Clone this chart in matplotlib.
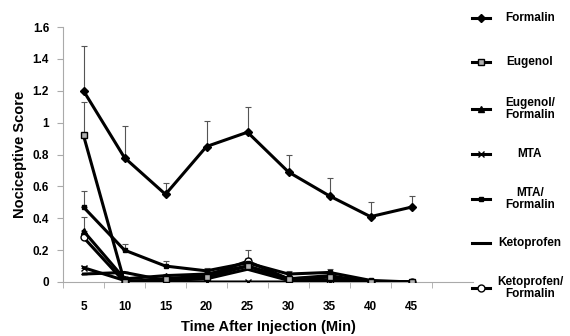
import numpy as np
import matplotlib
matplotlib.use('Agg')
import matplotlib.pyplot as plt
from matplotlib.lines import Line2D

plt.rcParams['font.family'] = ['Liberation Sans', 'DejaVu Sans']

times = [5, 10, 15, 20, 25, 30, 35, 40, 45]

formalin = [1.20, 0.78, 0.55, 0.85, 0.94, 0.69, 0.54, 0.41, 0.47]
formalin_err = [0.28, 0.20, 0.07, 0.16, 0.16, 0.11, 0.11, 0.09, 0.07]
eugenol = [0.92, 0.00, 0.02, 0.03, 0.10, 0.02, 0.03, 0.00, 0.00]
eugenol_err = [0.21, 0.0, 0.0, 0.0, 0.0, 0.0, 0.0, 0.0, 0.0]
eug_form = [0.32, 0.02, 0.04, 0.05, 0.10, 0.02, 0.04, 0.00, 0.00]
eug_form_err = [0.09, 0.02, 0.01, 0.01, 0.03, 0.01, 0.02, 0.0, 0.0]
mta = [0.09, 0.01, 0.00, 0.00, 0.00, 0.00, 0.00, 0.00, 0.00]
mta_err = [0.01, 0.0, 0.0, 0.0, 0.0, 0.0, 0.0, 0.0, 0.0]
mta_form = [0.47, 0.20, 0.10, 0.07, 0.12, 0.05, 0.06, 0.01, 0.00]
mta_form_err = [0.10, 0.04, 0.03, 0.02, 0.03, 0.02, 0.02, 0.0, 0.0]
keto = [0.05, 0.06, 0.01, 0.02, 0.08, 0.01, 0.01, 0.00, 0.00]
keto_err = [0.0, 0.0, 0.0, 0.0, 0.0, 0.0, 0.0, 0.0, 0.0]
keto_form = [0.28, 0.00, 0.02, 0.04, 0.13, 0.02, 0.01, 0.00, 0.00]
keto_form_err = [0.03, 0.0, 0.0, 0.01, 0.07, 0.0, 0.0, 0.0, 0.0]

series = [
    ('Formalin', formalin, formalin_err, dict(marker='D', ms=4, mfc='black')),
    ('Eugenol', eugenol, eugenol_err, dict(marker='s', ms=4.5, mfc='#b0b0b0')),
    ('Eugenol/\nFormalin', eug_form, eug_form_err, dict(marker='^', ms=4.5, mfc='black')),
    ('MTA', mta, mta_err, dict(marker='x', ms=5, mew=1)),
    ('MTA/\nFormalin', mta_form, mta_form_err, dict(marker='s', ms=3.5, mfc='black')),
    ('Ketoprofen', keto, keto_err, dict(marker='_', ms=4)),
    ('Ketoprofen/\nFormalin', keto_form, keto_form_err, dict(marker='o', ms=5, mfc='white')),
]

fig = plt.figure(figsize=(5.7, 3.36), dpi=100)
ax = fig.add_axes([63 / 570, 54 / 336, 410 / 570, 255 / 336])

x = np.arange(1, len(times) + 1)
for name, vals, err, style in reversed(series):
    ax.errorbar(x, vals, yerr=[np.zeros(len(err)), err], fmt='none',
                ecolor='#555555', elinewidth=0.8, capsize=2, capthick=0.8, zorder=2)
    ax.plot(x, vals, color='black', lw=2.2, mec='black', zorder=3, **style)

ax.set_xlim(0.5, 10.5)
ax.set_ylim(0, 1.6)
ax.set_xticks(x)
ax.set_xticklabels([str(t) for t in times])
ax.set_xticks(np.arange(0.5, 10.0, 1.0), minor=True)
ax.tick_params(axis='x', which='major', length=0, pad=14)
ax.tick_params(axis='x', which='minor', length=4, color='#aaaaaa', direction='out')
ax.set_yticks(np.arange(0, 1.61, 0.2))
ax.set_yticklabels(['0', '0.2', '0.4', '0.6', '0.8', '1', '1.2', '1.4', '1.6'])
ax.tick_params(axis='y', length=4, color='#aaaaaa', direction='out', pad=6)
for lab in ax.get_xticklabels() + ax.get_yticklabels():
    lab.set_fontweight('bold')
    lab.set_fontsize(8.5)
ax.spines['top'].set_visible(False)
ax.spines['right'].set_visible(False)
ax.spines['left'].set_color('#aaaaaa')
ax.spines['bottom'].set_color('#aaaaaa')

ax.set_ylabel('Nociceptive Score', fontsize=10.5, fontweight='bold')
ax.set_xlabel('Time After Injection (Min)', fontsize=10.5, fontweight='bold')
ax.yaxis.set_label_coords(-0.088, 0.5)
ax.xaxis.set_label_coords(0.5, -0.15)

# legend drawn on the right, one entry per row
legend_y = [18, 62, 109, 154, 199, 243, 288]
for (name, vals, err, style), ly in zip(series, legend_y):
    yf = 1 - ly / 336
    fig.add_artist(Line2D([472 / 570, 490 / 570], [yf, yf], color='black', lw=2.2,
                          transform=fig.transFigure))
    fig.add_artist(Line2D([481 / 570], [yf], color='black', lw=0, mec='black',
                          transform=fig.transFigure, **style))
    fig.text(530 / 570, yf, name, ha='center', va='center', fontsize=8.5,
             fontweight='bold', linespacing=1.1)

fig.savefig('out.png', dpi=100)
